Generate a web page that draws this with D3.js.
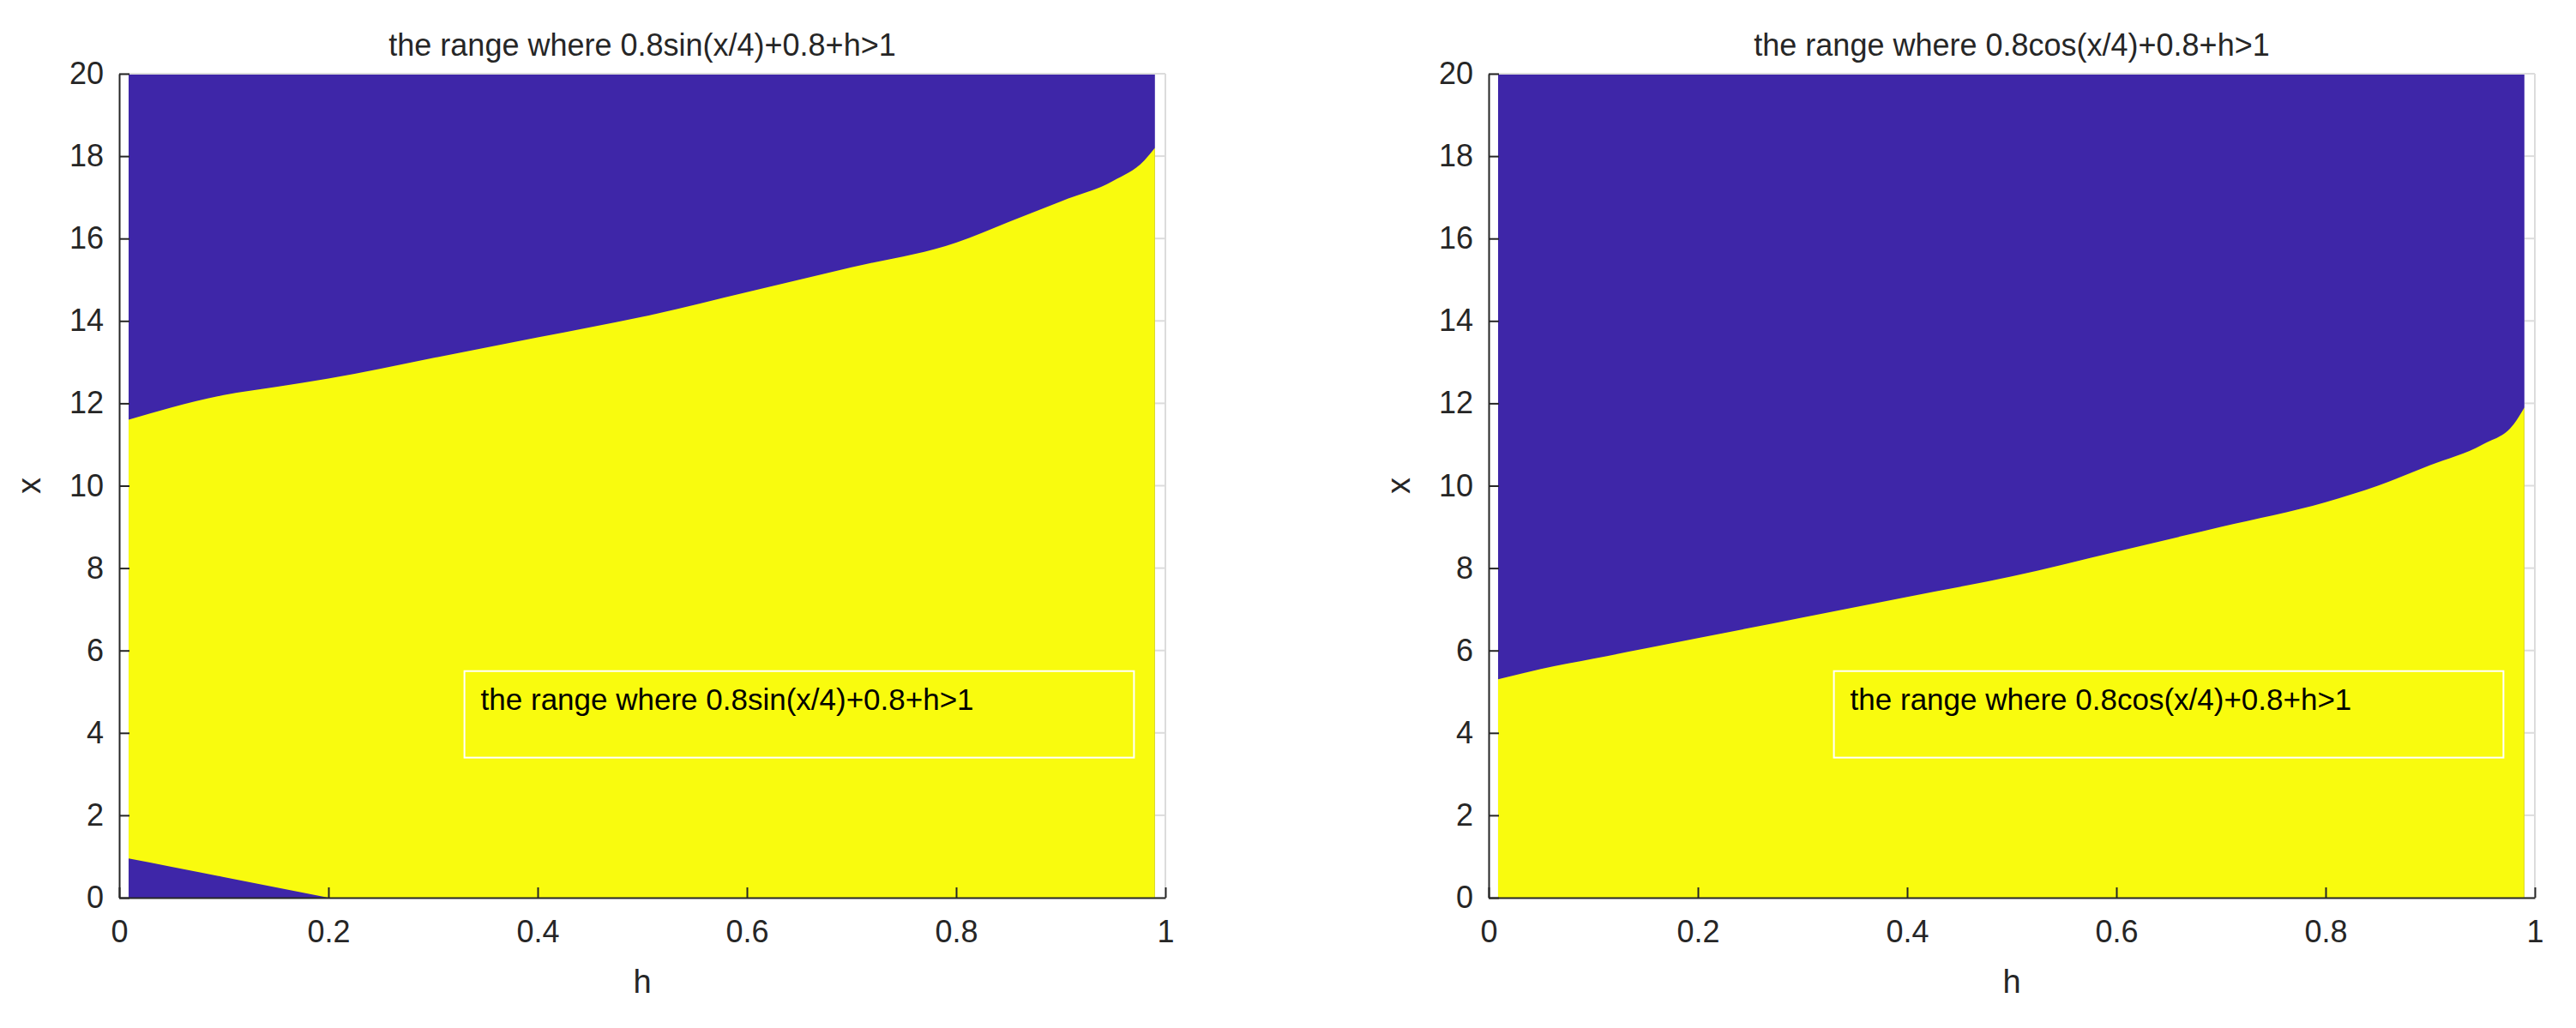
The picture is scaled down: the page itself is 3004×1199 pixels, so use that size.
<!DOCTYPE html>
<html><head><meta charset="utf-8">
<script src="https://cdn.jsdelivr.net/npm/d3@7"></script>
<style>body{margin:0;background:#fff}text{font-family:"Liberation Sans",Arial,sans-serif;fill:#262626}</style>
</head><body>
<svg id="c" width="3004" height="1199"></svg>
<script>
// h samples and boundary x-values
const hVals = [0.009,0.05,0.1,0.15,0.2,0.3,0.4,0.5,0.6,0.7,0.8,0.85,0.9,0.95,0.98,0.99];
const sinUpper = [11.6,11.9,12.2,12.4,12.6,13.1,13.6,14.1,14.7,15.3,15.9,16.4,16.9,17.4,17.9,18.2];
const sinLowerH = [0.009,0.05,0.1,0.15,0.2];
const sinLower = [0.95,0.75,0.5,0.25,0.0];
const cosUpper = [5.3,5.55,5.8,6.05,6.3,6.8,7.3,7.8,8.4,9.0,9.6,10.0,10.5,11.0,11.5,11.9];
const xTicks = [0,0.2,0.4,0.6,0.8,1];
const yTicks = [0,2,4,6,8,10,12,14,16,18,20];
const titles = ["the range where 0.8sin(x/4)+0.8+h>1","the range where 0.8cos(x/4)+0.8+h>1"];
const BLUE="#3e26a8", YEL="#f9fb0e";

const svg=d3.select("#c");
const panels=[{x0:139,x1:1359,upper:sinUpper,lower:sinLower,title:titles[0]},
              {x0:1736,x1:2956,upper:cosUpper,lower:null,title:titles[1]}];
const yTop=86,yBot=1047;
panels.forEach(p=>{
  const xs=d3.scaleLinear().domain([0,1]).range([p.x0,p.x1]);
  const ys=d3.scaleLinear().domain([0,20]).range([yBot,yTop]);
  const g=svg.append("g");
  const h0=hVals[0],h1=hVals[hVals.length-1];
  g.append("rect").attr("x",xs(h0)).attr("y",ys(20)).attr("width",xs(h1)-xs(h0)).attr("height",ys(0)-ys(20)).attr("fill",BLUE);
  const pts=hVals.map((h,i)=>[h,p.upper[i]]);
  const area=d3.area().x(d=>xs(d[0])).y0(ys(0)).y1(d=>ys(d[1])).curve(d3.curveMonotoneX);
  g.append("path").attr("d",area(pts)).attr("fill",YEL);
  if(p.lower){
    const lp=sinLowerH.map((h,i)=>[h,sinLower[i]]);
    g.append("path").attr("d",area(lp)).attr("fill",BLUE);
  }
  g.append("line").attr("x1",p.x0).attr("x2",p.x1).attr("y1",yTop).attr("y2",yTop).attr("stroke","#dcdcdc").attr("stroke-width",2);
  g.append("line").attr("x1",p.x1).attr("x2",p.x1).attr("y1",yTop).attr("y2",yBot).attr("stroke","#dcdcdc").attr("stroke-width",2);
  yTicks.forEach(t=>g.append("line").attr("x1",p.x1-12).attr("x2",p.x1).attr("y1",ys(t)).attr("y2",ys(t)).attr("stroke","#dcdcdc").attr("stroke-width",2));
  const ax=g.append("g").attr("transform",`translate(0,${yBot})`).call(d3.axisBottom(xs).tickValues(xTicks).tickFormat(d3.format("~g")).tickSizeInner(-12).tickSizeOuter(0).tickPadding(26));
  const ay=g.append("g").attr("transform",`translate(${p.x0},0)`).call(d3.axisLeft(ys).tickValues(yTicks).tickSizeInner(-12).tickSizeOuter(0).tickPadding(18));
  [ax,ay].forEach(a=>{a.selectAll("path,line").attr("stroke","#262626").attr("stroke-width",2);a.selectAll("text").style("font-size","36px").attr("fill","#262626").style("font-family","Liberation Sans, Arial");});
  g.append("text").attr("x",(p.x0+p.x1)/2).attr("y",65).attr("text-anchor","middle").style("font-size","36px").text(p.title);
  g.append("text").attr("x",(p.x0+p.x1)/2).attr("y",1158).attr("text-anchor","middle").style("font-size","38px").text("h");
  g.append("text").attr("transform",`translate(${p.x0-92},${(yTop+yBot)/2}) rotate(-90)`).attr("text-anchor","middle").style("font-size","38px").text("x");
  const lx=xs(0.33), rx=xs(0.97);
  g.append("rect").attr("x",lx).attr("y",ys(5.5)).attr("width",rx-lx).attr("height",ys(3.4)-ys(5.5)).attr("fill","none").attr("stroke","#fff").attr("stroke-width",2);
  g.append("text").attr("x",lx+19).attr("y",828).style("font-size","35px").style("fill","#000").text(p.title);
});
</script>
</body></html>
